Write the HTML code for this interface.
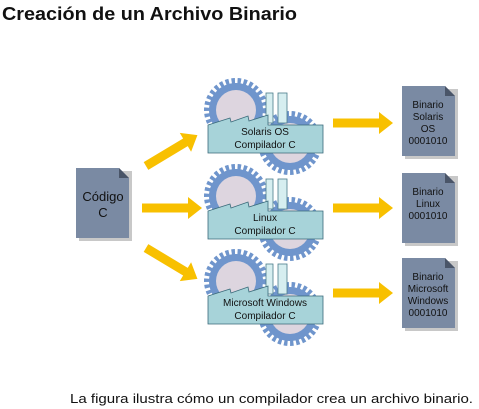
<!DOCTYPE html>
<html><head><meta charset="utf-8"><style>
html,body{margin:0;padding:0;background:#fff;width:479px;height:409px;overflow:hidden}
svg{display:block}
text{font-family:"Liberation Sans",sans-serif;fill:#111}
</style></head><body>
<svg width="479" height="409" viewBox="0 0 479 409" xmlns="http://www.w3.org/2000/svg">
<defs>
<g id="gear">
<circle r="29" fill="none" stroke="#6f95cc" stroke-width="6" stroke-dasharray="3.4 2.6"/>
<circle r="27" fill="#6f95cc"/>
<circle r="20" fill="#ddd5df"/>
</g>
<g id="factory">
<use href="#gear" x="236" y="110"/>
<use href="#gear" x="290" y="143"/>
<rect x="266" y="93" width="7" height="30" fill="#d6eef0" stroke="#4a7a8a" stroke-width="0.8"/>
<rect x="278" y="93" width="9" height="30" fill="#d6eef0" stroke="#4a7a8a" stroke-width="0.8"/>
<polygon points="208,125 230,118 231,122 248,116 249,121 268,115 268,125 323,125 323,153 208,153" fill="#a7d3d9" stroke="#3a6a7a" stroke-width="0.8"/>
</g>
<polygon id="arr" points="0,-4.5 46,-4.5 46,-11 60,0 46,11 46,4.5 0,4.5" fill="#f8c000"/>
<g id="doc">
<rect x="3" y="3" width="53" height="70" fill="#c8c8c8"/>
<polygon points="0,0 43,0 53,10 53,70 0,70" fill="#7a8aa3"/>
<polygon points="43,0 53,10 43,10" fill="#4a5568"/>
</g>
</defs>
<text x="2" y="20" font-size="18.5" font-weight="bold" textLength="295" lengthAdjust="spacingAndGlyphs">Creación de un Archivo Binario</text>

<use href="#factory" x="0" y="0"/>
<use href="#factory" x="0" y="86"/>
<use href="#factory" x="0" y="171"/>
<g font-size="10" text-anchor="middle">
<text x="265" y="135">Solaris OS</text><text x="265" y="148">Compilador C</text>
<text x="265" y="221">Linux</text><text x="265" y="234">Compilador C</text>
<text x="265" y="306">Microsoft Windows</text><text x="265" y="319">Compilador C</text>
</g>

<g transform="translate(76,168)">
<rect x="3" y="3" width="53" height="70" fill="#c8c8c8"/>
<polygon points="0,0 43,0 53,10 53,70 0,70" fill="#7a8aa3"/>
<polygon points="43,0 53,10 43,10" fill="#4a5568"/>
</g>
<text x="103" y="201" font-size="13" text-anchor="middle">Código</text>
<text x="103" y="217" font-size="13" text-anchor="middle">C</text>

<use href="#doc" x="402" y="86"/>
<use href="#doc" x="402" y="173"/>
<use href="#doc" x="402" y="258"/>
<g font-size="10" text-anchor="middle">
<text x="428" y="108">Binario</text><text x="428" y="120">Solaris</text><text x="428" y="132">OS</text><text x="428" y="144">0001010</text>
<text x="428" y="195">Binario</text><text x="428" y="207">Linux</text><text x="428" y="219">0001010</text>
<text x="428" y="280">Binario</text><text x="428" y="292">Microsoft</text><text x="428" y="304">Windows</text><text x="428" y="316">0001010</text>
</g>

<use href="#arr" transform="translate(333,123)"/>
<use href="#arr" transform="translate(333,208)"/>
<use href="#arr" transform="translate(333,293)"/>
<use href="#arr" transform="translate(142,208)"/>
<use href="#arr" transform="translate(146,166) rotate(-31)"/>
<use href="#arr" transform="translate(146,248) rotate(31)"/>

<text x="70" y="403" font-size="13" textLength="403" lengthAdjust="spacingAndGlyphs">La figura ilustra cómo un compilador crea un archivo binario.</text>
</svg>
</body></html>
